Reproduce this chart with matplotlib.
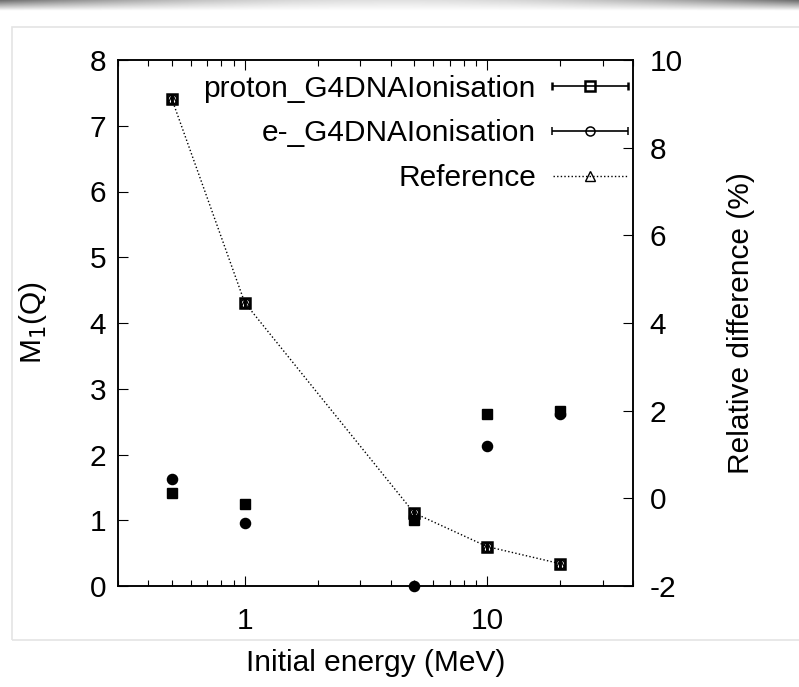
import numpy as np
import matplotlib
matplotlib.use("Agg")
import matplotlib.pyplot as plt
from matplotlib.legend_handler import HandlerErrorbar
from matplotlib.patches import Rectangle

plt.rcParams['font.family'] = ['Liberation Sans', 'DejaVu Sans']
plt.rcParams['axes.unicode_minus'] = False

# ---- data ----
energy = [0.5, 1, 5, 10, 20]                       # MeV
m1_proton = [7.41, 4.31, 1.11, 0.60, 0.34]
m1_electron = [7.41, 4.31, 1.11, 0.60, 0.34]
m1_reference = [7.41, 4.31, 1.11, 0.60, 0.34]
reldiff_proton = [0.13, -0.12, -0.50, 1.92, 2.00]   # %
reldiff_electron = [0.45, -0.56, -2.00, 1.19, 1.93]  # %

left_ticks = [0, 1, 2, 3, 4, 5, 6, 7, 8]
right_ticks = [-2, 0, 2, 4, 6, 8, 10]
x_ticks = [1, 10]
x_ticklabels = ["1", "10"]

W, H = 799, 687
fig = plt.figure(figsize=(W / 100, H / 100), dpi=100)

# page decoration: top shadow band and light frame
band = fig.add_axes([0, 1 - 11 / H, 1, 11 / H])
xx = np.linspace(-1, 1, 400)
yy = np.linspace(0, 1, 20)[:, None]
grad = (np.abs(xx)[None, :] ** 2) * 0.45 * (1 - yy) + 0.12 * (1 - yy)
band.imshow(1 - grad, cmap='gray', vmin=0, vmax=1, aspect='auto', extent=[0, 1, 0, 1])
band.set_axis_off()
fig.patches.append(Rectangle((12 / W, 1 - 640 / H), 1, (640 - 27) / H,
                             transform=fig.transFigure, fill=False,
                             edgecolor='#e4e4e4', linewidth=1.2, zorder=0))

ax = fig.add_axes([118 / W, 1 - 586 / H, (633 - 118) / W, (586 - 60) / H])
ax2 = ax.twinx()
ax.set_zorder(ax2.get_zorder() + 1)
ax.patch.set_visible(False)

# relative differences (right axis), filled markers
ax2.plot(energy, reldiff_proton, linestyle='none', marker='s', markersize=7.8,
         color='black', clip_on=False)
ax2.plot(energy, reldiff_electron, linestyle='none', marker='o', markersize=7.3,
         color='black', clip_on=False)

# M1 values (left axis), open markers
zero = [0] * len(energy)
eb_p = ax.errorbar(energy, m1_proton, xerr=zero, fmt='s', markersize=7.5,
                   mfc='none', mec='black', mew=1.8, ecolor='black',
                   elinewidth=1.2, capsize=3, capthick=1.2,
                   label='proton_G4DNAIonisation')
eb_e = ax.errorbar(energy, m1_electron, xerr=zero, fmt='o', markersize=6.5,
                   mfc='none', mec='black', mew=1.1, ecolor='black',
                   elinewidth=1.2, capsize=3, capthick=1.2,
                   label='e-_G4DNAIonisation')
ln_r, = ax.plot(energy, m1_reference, linestyle=(0, (1, 1.6)), linewidth=1.0,
                marker='^', markersize=7, mfc='none', mec='black', mew=1.0,
                color='black', label='Reference')

ax.set_xscale('log')
ax.set_xlim(0.3, 40)
ax.set_ylim(0, 8)
ax2.set_ylim(-2, 10)
ax.set_xticks(x_ticks)
ax.set_xticklabels(x_ticklabels)
ax.set_yticks(left_ticks)
ax2.set_yticks(right_ticks)

fs = 21.5
ax.tick_params(axis='both', which='major', direction='in', length=7, width=0.8,
               labelsize=fs)
ax.tick_params(axis='x', which='both', top=True, direction='in', pad=15)
ax.tick_params(axis='x', which='minor', length=4, width=0.8)
ax.tick_params(axis='y', right=False, pad=8.5)
ax2.tick_params(axis='y', direction='in', length=7, width=0.8, labelsize=fs, pad=12)

for a in (ax, ax2):
    for s in a.spines.values():
        s.set_linewidth(1.1)

ax.set_xlabel('Initial energy (MeV)', fontsize=fs, labelpad=10)
ax.set_ylabel('M$_1$(Q)', fontsize=fs, labelpad=29)
ax2.set_ylabel('Relative difference (%)', fontsize=fs, labelpad=32)

leg = ax.legend(handles=[eb_p, eb_e, ln_r], loc='upper right',
                bbox_to_anchor=(1.0, 0.982), frameon=False,
                fontsize=fs, markerfirst=False, numpoints=1,
                handlelength=2.52, handletextpad=0.56, labelspacing=0.56,
                borderaxespad=0.1, borderpad=0.07,
                handler_map={type(eb_p): HandlerErrorbar(xerr_size=1.27)})

fig.savefig('out.png', dpi=100)
